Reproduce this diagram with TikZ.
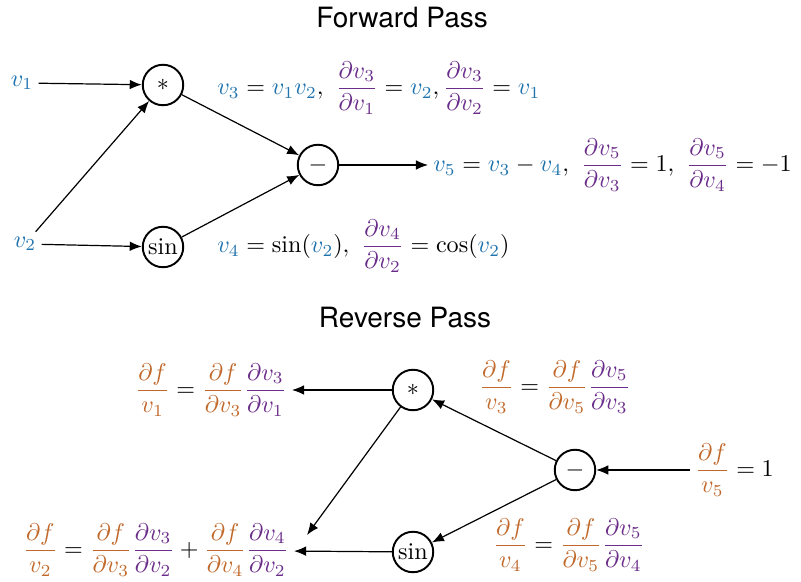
\documentclass[tikz,border=0pt]{standalone}
\usepackage{fontspec}
\usepackage{amsmath}
\usetikzlibrary{arrows.meta,positioning}
\newfontfamily\titlefont{TeX Gyre Heros}

\definecolor{vblue}{HTML}{1F73AE}
\definecolor{dorange}{HTML}{C0692B}
\definecolor{dpurple}{HTML}{6B2D8A}

\newcommand{\vv}[1]{\textcolor{vblue}{v_{#1}}}
\newcommand{\pd}[2]{\textcolor{dpurple}{\dfrac{\partial v_{#1}}{\partial v_{#2}}}}
\newcommand{\gf}[1]{\textcolor{dorange}{\dfrac{\partial f}{v_{#1}}}}
\newcommand{\gd}[1]{\textcolor{dorange}{\dfrac{\partial f}{\partial v_{#1}}}}

\tikzset{
  opnode/.style={circle, draw, line width=0.8pt, minimum size=16.8pt, inner sep=0.5pt},
  txt/.style={inner sep=2pt},
  edge/.style={-{Latex[length=5pt,width=4pt]}, line width=0.5pt},
  heading/.style={font=\titlefont\fontsize{11.6}{14}\selectfont}
}

\begin{document}
\begin{tikzpicture}[x=0.415pt, y=-0.415pt]
    \useasboundingbox (0,0) rectangle (801,582);

    % Forward pass
    \node[heading] (fwd) at (402,18) {Forward Pass};

    \node[txt] (v1) at (22,83) {$\vv1$};
    \node[txt] (v2) at (25,244) {$\vv2$};
    \node[opnode] (mul) at (163,85) {$*$};
    \node[opnode] (sinf) at (163,247) {$\sin$};
    \node[opnode] (sub) at (318,165) {$-$};

    \node[txt, anchor=west] (l3) at (212,88)
      {$\vv3 = \vv1\vv2,\ \pd31 = \vv2, \pd32 = \vv1$};
    \node[txt, anchor=west] (l5) at (428,165)
      {$\vv5 = \vv3 - \vv4,\ \pd53 = 1,\ \pd54 = -1$};
    \node[txt, anchor=west] (l4) at (212,246)
      {$\vv4 = \sin(\vv2),\ \pd42 = \cos(\vv2)$};

    \draw[edge] (v1) -- (mul);
    \draw[edge] (v2) -- (sinf);
    \draw[edge] (v2) -- (mul);
    \draw[edge] (mul) -- (sub);
    \draw[edge] (sinf) -- (sub);
    \draw[edge] (sub) -- (l5);

    % Reverse pass
    \node[heading] (rev) at (405,318) {Reverse Pass};

    \node[opnode] (mulr) at (413,390) {$*$};
    \node[opnode] (subr) at (575,470) {$-$};
    \node[opnode] (sinr) at (413,552) {$\sin$};

    \node[txt, anchor=east] (g1) at (292,390) {$\gf1 = \gd3\pd31$};
    \node[txt, anchor=east] (g2) at (294,550) {$\gf2 = \gd3\pd32 + \gd4\pd42$};
    \node[txt, anchor=west] (g3) at (474,387) {$\gf3 = \gd5\pd53$};
    \node[txt, anchor=west] (g4) at (488,545) {$\gf4 = \gd5\pd54$};
    \node[txt, anchor=west] (g5) at (690,470) {$\gf5 = 1$};
    \coordinate (g2tip) at (307,535);

    \draw[edge] (g5) -- (subr);
    \draw[edge] (subr) -- (mulr);
    \draw[edge] (subr) -- (sinr);
    \draw[edge] (mulr) -- (g1);
    \draw[edge] (sinr) -- (g2);
    \draw[edge] (mulr) -- (g2tip);
\end{tikzpicture}
\end{document}
